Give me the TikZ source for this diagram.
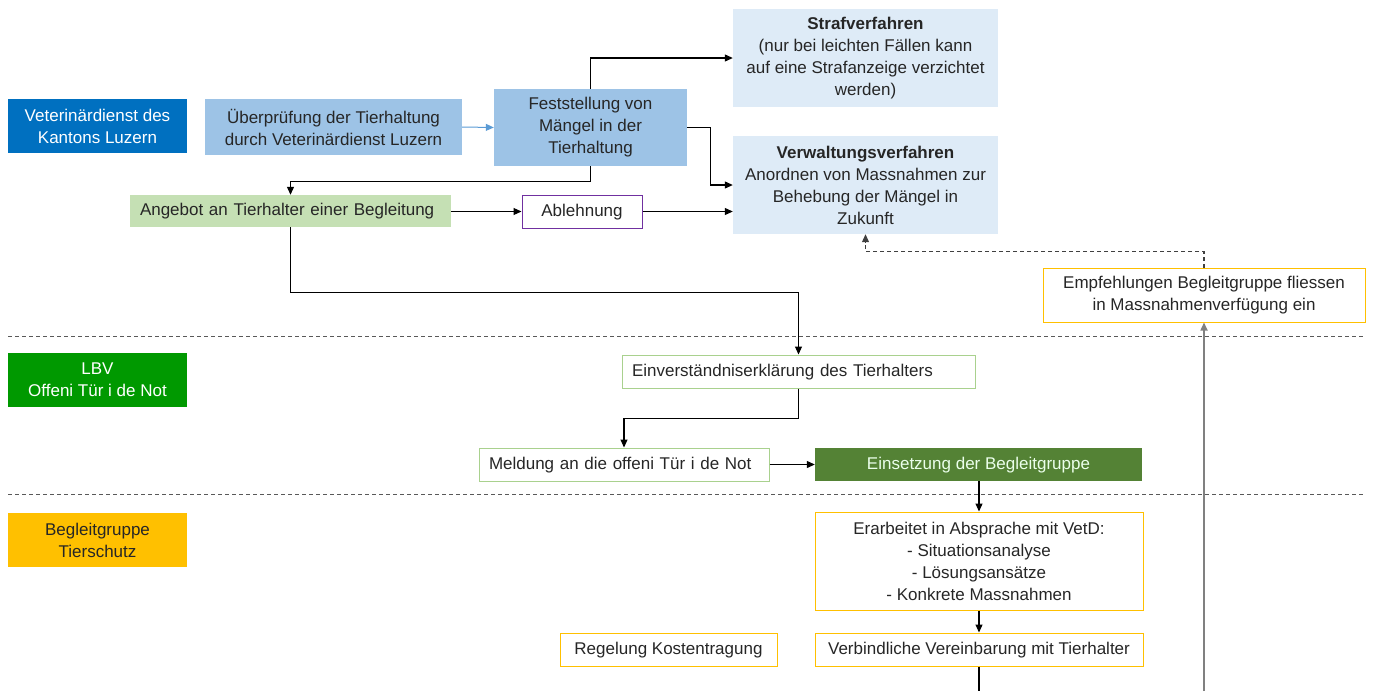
\documentclass[tikz,border=0pt]{standalone}
\usepackage{fontspec}
\setmainfont{Liberation Sans}
\usetikzlibrary{arrows.meta}
\definecolor{vetblue}{HTML}{0070C0}
\definecolor{midblue}{HTML}{9DC3E6}
\definecolor{paleblue}{HTML}{DEEBF7}
\definecolor{palegreen}{HTML}{C5E0B4}
\definecolor{lightgreen}{HTML}{A9D18E}
\definecolor{lbvgreen}{HTML}{009900}
\definecolor{darkgreen}{HTML}{548235}
\definecolor{gold}{HTML}{FFC000}
\definecolor{purp}{HTML}{7030A0}
\definecolor{txt}{HTML}{262626}
\definecolor{arrblue}{HTML}{5B9BD5}
\tikzset{
  box/.style={rectangle, inner sep=0pt, align=center, text=txt},
  leftbox/.style={rectangle, inner ysep=0pt, inner xsep=10pt, align=left, text=txt, text width=#1},
  oneline/.style={text height=12pt, text depth=3pt},
  lane/.style={box, minimum width=179pt, minimum height=54pt},
  conn/.style={line width=1.1pt, draw=black, -{Triangle[length=8pt,width=7pt]}},
  sep/.style={line width=1pt, draw=black!65, dash pattern=on 4pt off 3pt},
}
\begin{document}
\begin{tikzpicture}[x=1pt,y=-1pt,font=\fontsize{17}{22}\selectfont]
\useasboundingbox (0,0) rectangle (1373,691);
% separators
\draw[sep] (8,336) -- (1365,336);
\draw[sep] (8,494) -- (1365,494);
% lane labels
\node[lane, fill=vetblue, text=white] (vet) at (97.5,126) {Veterinärdienst des\\Kantons Luzern};
\node[lane, fill=lbvgreen, text=white] (lbv) at (97.5,380) {LBV\\Offeni Tür i de Not};
\node[lane, fill=gold] (begl) at (97.5,540) {Begleitgruppe\\Tierschutz};
% nodes
\node[box, fill=midblue, minimum width=257pt, minimum height=56pt] (ueber) at (333.5,127) {Überprüfung der Tierhaltung\\durch Veterinärdienst Luzern};
\node[box, fill=midblue, minimum width=193pt, minimum height=77pt] (fest) at (590.5,127.5) {Feststellung von\\Mängel in der\\Tierhaltung};
\node[box, fill=paleblue, minimum width=265pt, minimum height=98pt] (straf) at (865.5,58) {\textbf{Strafverfahren}\\(nur bei leichten Fällen kann\\auf eine Strafanzeige verzichtet\\werden)};
\node[box, fill=paleblue, minimum width=265pt, minimum height=98pt] (verw) at (865.5,185) {\textbf{Verwaltungsverfahren}\\Anordnen von Massnahmen zur\\Behebung der Mängel in\\Zukunft};
\node[leftbox=301pt, oneline, fill=palegreen, minimum height=32pt] (angebot) at (290.5,211) {Angebot an Tierhalter einer Begleitung};
\node[box, oneline, draw=purp, line width=1pt, fill=white, minimum width=120pt, minimum height=33pt] (ablehn) at (582,211.5) {Ablehnung};
\node[box, draw=gold, line width=1pt, minimum width=322pt, minimum height=54pt] (empf) at (1204,295) {Empfehlungen Begleitgruppe fliessen\\in Massnahmenverfügung ein};
\node[leftbox=333pt, oneline, draw=lightgreen, line width=1pt, minimum height=33pt] (einv) at (798.5,371.5) {Einverständniserklärung des Tierhalters};
\node[leftbox=270pt, oneline, draw=lightgreen, line width=1pt, minimum height=33pt] (meld) at (624,464.5) {Meldung an die offeni Tür i de Not};
\node[box, oneline, fill=darkgreen, text=green!8!white, minimum width=327pt, minimum height=33pt] (einsetz) at (978.5,464.5) {Einsetzung der Begleitgruppe};
\node[box, draw=gold, line width=1pt, minimum width=328pt, minimum height=98pt] (erarb) at (979,561) {Erarbeitet in Absprache mit VetD:\\- Situationsanalyse\\- Lösungsansätze\\- Konkrete Massnahmen};
\node[box, oneline, draw=gold, line width=1pt, minimum width=217pt, minimum height=33pt] (regel) at (668.5,649.5) {Regelung Kostentragung};
\node[box, oneline, draw=gold, line width=1pt, minimum width=328pt, minimum height=33pt] (verb) at (979,649.5) {Verbindliche Vereinbarung mit Tierhalter};
\coordinate (bot1) at (979,691);
\coordinate (bot2) at (1204,691);
% connectors
\draw[conn, draw=arrblue, line width=1pt] (ueber.east) -- (fest.west);
\draw[conn] (fest.north) |- (straf.west);
\draw[conn] (fest.east) -- ++(23,0) |- (verw.west);
\draw[conn] (fest.south) -- ++(0,15) -| (angebot.north);
\draw[conn] (ablehn.west -| angebot.east) -- (ablehn.west);
\draw[conn] (ablehn.east) -- (verw.west |- ablehn.east);
\draw[conn] (angebot.south) -- ++(0,65) -| (einv.north);
\draw[conn] (einv.south) -- ++(0,30) -| (meld.north);
\draw[conn] (meld.east) -- (einsetz.west);
\draw[conn] (einsetz.south -| erarb.north) -- (erarb.north);
\draw[conn] (erarb.south) -- (verb.north);
\draw[line width=1.1pt] (verb.south) -- (bot1);
\draw[conn, draw=black!50, line width=1.6pt] (bot2) -- (empf.south);
\draw[conn, dash pattern=on 4pt off 3pt, draw=black!75] (empf.north) -- ++(0,-16) -| (verw.south);
\end{tikzpicture}
\end{document}
